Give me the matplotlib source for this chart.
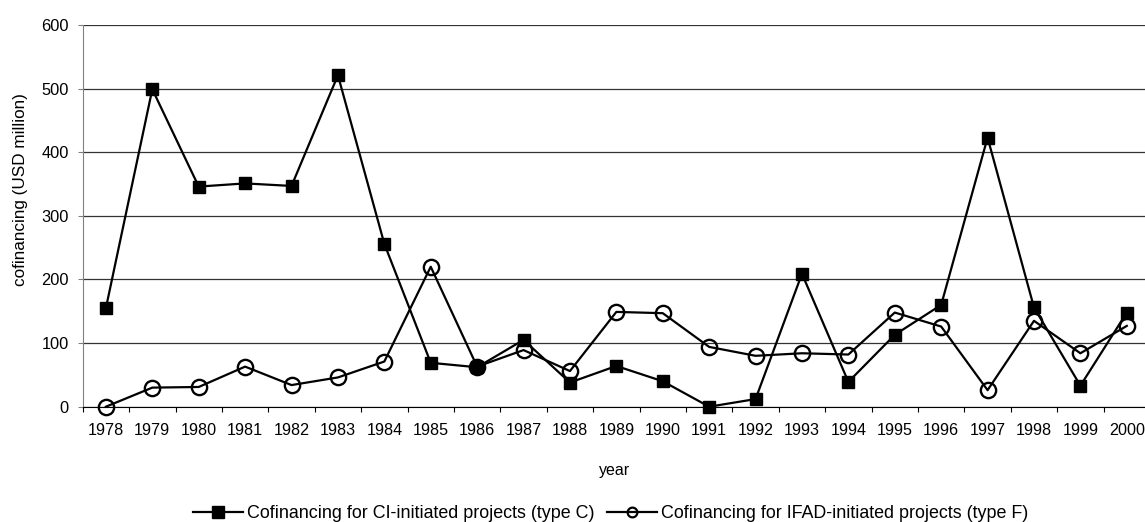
import matplotlib
matplotlib.use("Agg")
import matplotlib.pyplot as plt
import numpy as np

years = [str(y) for y in range(1978, 2001)]
type_c = [155, 499, 346, 351, 347, 521, 256, 69, 62, 105, 38, 64, 40, 0, 12,
          209, 39, 113, 160, 423, 156, 33, 148]
type_f = [0, 30, 31, 63, 34, 46, 71, 220, 63, 89, 56, 149, 147, 94, 80,
          84, 82, 148, 126, 26, 135, 84, 127]
yticks = [0, 100, 200, 300, 400, 500, 600]

plt.rcParams['font.family'] = ['Liberation Sans', 'DejaVu Sans']

W, H = 1145, 522
fig = plt.figure(figsize=(W / 100, H / 100), dpi=100)
ax = fig.add_axes([82.7 / W, (H - 406.7) / H, (1150 - 82.7) / W, (406.7 - 25) / H])

x = np.arange(len(years))
l1, = ax.plot(x, type_c, color='black', lw=1.6, marker='s', markersize=9,
              markerfacecolor='black', markeredgecolor='black',
              label='Cofinancing for CI-initiated projects (type C)', zorder=3, clip_on=False)
l2, = ax.plot(x, type_f, color='black', lw=1.6, marker='o', markersize=11,
              markerfacecolor='none', markeredgecolor='black', markeredgewidth=1.7,
              label='Cofinancing for IFAD-initiated projects (type F)', zorder=3, clip_on=False)

ax.set_xlim(-0.5, len(years) - 0.5)
ax.set_ylim(0, 600)
ax.set_yticks(yticks)
ax.set_yticklabels([str(v) for v in yticks], fontsize=11.8)
ax.yaxis.grid(True, color='#333333', lw=0.9)
ax.set_axisbelow(True)

ax.set_xticks(np.arange(-0.5, len(years) + 0.5, 1))
ax.set_xticklabels([])
ax.set_xticks(x, minor=True)
ax.set_xticklabels(years, minor=True, fontsize=11.6)
ax.tick_params(axis='x', which='major', length=3.6, direction='out', color='black')
ax.tick_params(axis='x', which='minor', length=0, pad=12)
ax.tick_params(axis='y', length=3.6, direction='out', color='#808080', pad=6.5)

for s in ['top', 'right']:
    ax.spines[s].set_visible(False)
ax.spines['left'].set_color('#808080')
ax.spines['bottom'].set_color('black')

ax.set_ylabel('cofinancing (USD million)', fontsize=12.3)
ax.yaxis.set_label_coords((20.5 - 82.7) / (1150 - 82.7), (406.7 - 190) / (406.7 - 25))
ax.yaxis.label.set_va('center')
ax.set_xlabel('year', fontsize=11.5)
ax.xaxis.set_label_coords((615 - 82.7) / (1150 - 82.7), (406.7 - 471) / (406.7 - 25))
ax.xaxis.label.set_va('center')

leg = fig.legend(loc='center left', bbox_to_anchor=(193 / W, 1 - 514 / H), ncol=2,
                 frameon=False, fontsize=12.9, handlelength=2.8, columnspacing=0.7,
                 handletextpad=0.22, borderpad=0, borderaxespad=0)
hs = leg.legend_handles
hs[0].set_markersize(8.5)
hs[1].set_markersize(7)
hs[1].set_markeredgewidth(1.6)

fig.savefig('out.png', dpi=100)
